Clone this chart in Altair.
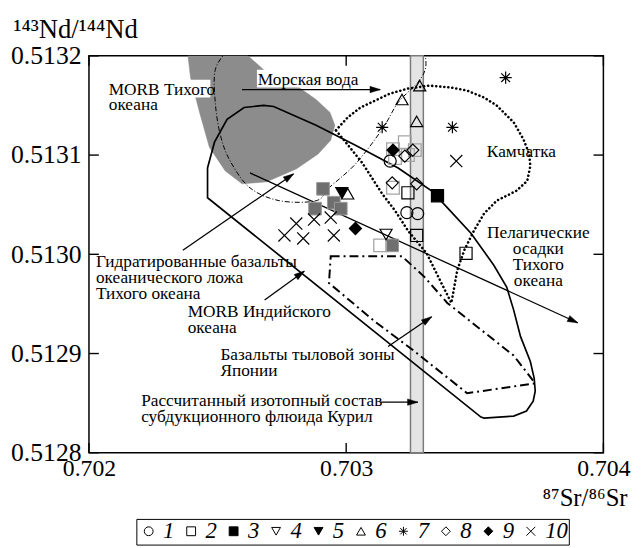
import math
import altair as alt
import pandas as pd

FONT = "Liberation Serif"
W, H = 521, 402

# ---------------- axes ----------------
X_DOMAIN = [0.702, 0.704]
Y_DOMAIN = [0.5128, 0.5132]
X_TICKS = [0.702, 0.703, 0.704]
Y_TICKS = [0.5128, 0.5129, 0.5130, 0.5131, 0.5132]

# ---------------- fields / curves ----------------
# calculated Kuril subduction fluid band
BAND_X = [0.70325, 0.70330]

# MORB Pacific (grey field)
pac_x = [0.702380, 0.702576, 0.702679, 0.702806, 0.702883, 0.702937, 0.702956, 0.702940,
         0.702891, 0.702806, 0.702691, 0.702595, 0.702530, 0.702468, 0.702430, 0.702395]
pac_y = [0.513210, 0.513210, 0.513186, 0.513170, 0.513156, 0.513143, 0.513130, 0.513115,
         0.513101, 0.513086, 0.513073, 0.513071, 0.513084, 0.513108, 0.513143, 0.513178]

# thin dash-dot field
sw_x = [0.702537, 0.702491, 0.702491, 0.702511, 0.702549, 0.702626, 0.702741, 0.702883,
        0.702933, 0.703036, 0.703140, 0.703202, 0.703278, 0.703309, 0.703305]
sw_y = [0.513205, 0.513186, 0.513153, 0.513120, 0.513094, 0.513067, 0.513054, 0.513054,
        0.513067, 0.513091, 0.513126, 0.513153, 0.513173, 0.513188, 0.513205]

# MORB Indian ocean (solid field)
sol_x = [0.702461, 0.702461, 0.702488, 0.702537, 0.702603, 0.702679, 0.702718, 0.702883,
         0.703036, 0.703202, 0.703332, 0.703393, 0.703486, 0.703574, 0.703624, 0.703651,
         0.703678, 0.703716, 0.703731, 0.703735, 0.703727, 0.703701, 0.703651, 0.703536,
         0.703524]
sol_y = [0.513057, 0.513087, 0.513113, 0.513136, 0.513148, 0.513150, 0.513149, 0.513130,
         0.513110, 0.513087, 0.513064, 0.513047, 0.513021, 0.512989, 0.512967, 0.512944,
         0.512917, 0.512892, 0.512875, 0.512862, 0.512852, 0.512842, 0.512837, 0.512835,
         0.512836]

# Kamchatka (dotted field)
kam_x = [0.702960, 0.703006, 0.703056, 0.703113, 0.703171, 0.703240, 0.703324, 0.703409,
         0.703470, 0.703536, 0.703585, 0.703651, 0.703689, 0.703712, 0.703716, 0.703704,
         0.703662, 0.703585, 0.703536, 0.703497, 0.703459, 0.703432, 0.703409, 0.703370,
         0.703313, 0.703240, 0.703190, 0.703140, 0.703063, 0.702998]
kam_y = [0.513125, 0.513138, 0.513148, 0.513155, 0.513162, 0.513167, 0.513170, 0.513168,
         0.513165, 0.513158, 0.513150, 0.513133, 0.513116, 0.513101, 0.513089, 0.513074,
         0.513064, 0.513054, 0.513041, 0.513024, 0.513004, 0.512984, 0.512951, 0.512971,
         0.513001, 0.513024, 0.513044, 0.513061, 0.513092, 0.513113]

# Japan back-arc basalts (thick dash-dot field)
jap_x = [0.702940, 0.703217, 0.703305, 0.703393, 0.703524, 0.703651, 0.703735, 0.703470,
         0.703267, 0.703113, 0.702933]
jap_y = [0.512998, 0.512998, 0.512977, 0.512951, 0.512924, 0.512898, 0.512870, 0.512860,
         0.512902, 0.512932, 0.512971]

# arrows (start x, start y, end x, end y)
arr_x1 = [0.702595, 0.702365, 0.702626, 0.702683, 0.703163, 0.703132]
arr_y1 = [0.513166, 0.513004, 0.513082, 0.512954, 0.512907, 0.512851]
arr_x2 = [0.703132, 0.702795, 0.703900, 0.702837, 0.703332, 0.703278]
arr_y2 = [0.513166, 0.513081, 0.512931, 0.512983, 0.512937, 0.512851]

# ---------------- samples ----------------
c1_x = [0.703171, 0.703236, 0.703278]
c1_y = [0.513094, 0.513042, 0.513041]
c2_x = [0.703240, 0.703274, 0.703466]
c2_y = [0.513062, 0.513019, 0.513001]
c3_x = [0.703355]
c3_y = [0.513059]
c4_x = [0.703155]
c4_y = [0.513020]
c5_x = [0.702983]
c5_y = [0.513062]
c6_x = [0.703286, 0.703217, 0.703274, 0.703006]
c6_y = [0.513170, 0.513156, 0.513134, 0.513061]
c7_x = [0.703140, 0.703413, 0.703620]
c7_y = [0.513128, 0.513128, 0.513178]
c8_x = [0.703179, 0.703274, 0.703259, 0.703228]
c8_y = [0.513072, 0.513071, 0.513105, 0.513099]
c9_x = [0.703036, 0.703182]
c9_y = [0.513026, 0.513105]
c10_x = [0.703428, 0.702806, 0.702760, 0.702833, 0.702875, 0.702940, 0.702952]
c10_y = [0.513094, 0.513031, 0.513019, 0.513016, 0.513035, 0.513037, 0.513019]
# grey symbols (unlabelled)
gf_x = [0.702910, 0.702879, 0.702952, 0.702979, 0.703179]
gf_y = [0.513066, 0.513046, 0.513052, 0.513046, 0.513009]
go_x = [0.703132, 0.703182, 0.703228, 0.703267, 0.703240, 0.703190, 0.703182]
go_y = [0.513009, 0.513106, 0.513113, 0.513105, 0.513100, 0.513097, 0.513067]

CATS = ["1", "2", "3", "4", "5", "6", "7", "8", "9", "10"]

# ---------------- labels ----------------
lab_left_text = ["MORB Тихого\nокеана",
                 "Камчатка",
                 "Гидратированные базальты\nокеанического ложа\nТихого океана",
                 "MORB Индийского\nокеана",
                 "Базальты тыловой зоны\nЯпонии",
                 "Рассчитанный изотопный состав\nсубдукционного флюида Курил"]
lab_left_x = [0.702077, 0.703547, 0.702027, 0.702384, 0.702511, 0.702203]
lab_left_y = [0.513161, 0.513098, 0.512987, 0.512937, 0.512893, 0.512847]
lab_center_text = ["Морская вода", "Пелагические\nосадки\nТихого\nокеана"]
lab_center_x = [0.702852, 0.703747]
lab_center_y = [0.513171, 0.513016]
# white boxes behind two labels
box_x1 = [0.702065, 0.702653]
box_x2 = [0.702472, 0.703056]
box_y1 = [0.513176, 0.513186]
box_y2 = [0.513158, 0.513168]

# ---------------- build tables ----------------
def curve(xs, ys):
    return pd.DataFrame({"x": xs, "y": ys, "i": list(range(len(xs)))})

pts = []
for c, xs, ys in zip(CATS, [c1_x, c2_x, c3_x, c4_x, c5_x, c6_x, c7_x, c8_x, c9_x, c10_x],
                     [c1_y, c2_y, c3_y, c4_y, c5_y, c6_y, c7_y, c8_y, c9_y, c10_y]):
    for a, b in zip(xs, ys):
        pts.append({"x": a, "y": b, "cat": c})
pts_df = pd.DataFrame(pts)

PX = W / (X_DOMAIN[1] - X_DOMAIN[0])
PY = H / (Y_DOMAIN[1] - Y_DOMAIN[0])
heads = []
for x1, y1, x2, y2 in zip(arr_x1, arr_y1, arr_x2, arr_y2):
    dxp = (x2 - x1) * PX
    dyp = (y2 - y1) * PY
    L = math.hypot(dxp, dyp)
    ang = math.degrees(math.atan2(dxp, dyp)) % 360
    back = 5.0
    heads.append({"x": x2 - dxp / L * back / PX, "y": y2 - dyp / L * back / PY, "a": ang})
heads_df = pd.DataFrame(heads)
arr_df = pd.DataFrame({"x": arr_x1, "y": arr_y1, "x2": arr_x2, "y2": arr_y2})

XAX = alt.Axis(values=X_TICKS, format=".3f", ticks=False, domain=False, grid=False,
               labelFont=FONT, labelFontSize=24, labelPadding=4, labelFlush=False,
               labelColor="black", title="⁸⁷Sr/⁸⁶Sr", titleX=545, titleY=53,
               titleAlign="right", titleBaseline="alphabetic", titleFont=FONT,
               titleFontSize=25, titleFontWeight="normal", titleColor="black")
YAX = alt.Axis(values=Y_TICKS, format=".4f", ticks=False, domain=False, grid=False,
               labelFont=FONT, labelFontSize=26, labelPadding=8, labelFlush=False,
               labelColor="black", title="¹⁴³Nd/¹⁴⁴Nd", titleAngle=0, titleX=-77,
               titleY=-19, titleAlign="left", titleBaseline="alphabetic", titleFont=FONT,
               titleFontSize=27, titleFontWeight="normal", titleColor="black")
XS = alt.Scale(domain=X_DOMAIN, nice=False, zero=False)
YS = alt.Scale(domain=Y_DOMAIN, nice=False, zero=False)


def X(f):
    return alt.X(f, type="quantitative", scale=XS, axis=XAX)


def Y(f):
    return alt.Y(f, type="quantitative", scale=YS, axis=YAX)


layers = []

# grey Pacific MORB field
layers.append(alt.Chart(curve(pac_x, pac_y)).mark_line(
    fill="#8c8c8c", stroke="#8c8c8c", strokeWidth=0.5, interpolate="linear-closed",
    clip=True).encode(x=X("x"), y=Y("y"), order="i:Q"))

# white label boxes
layers.append(alt.Chart(pd.DataFrame({"x": box_x1, "x2": box_x2, "y": box_y1, "y2": box_y2}))
              .mark_rect(fill="white").encode(x=X("x"), x2="x2", y=Y("y"), y2="y2"))

# band
layers.append(alt.Chart(pd.DataFrame({"x": [BAND_X[0]], "x2": [BAND_X[1]],
                                      "y": [Y_DOMAIN[0]], "y2": [Y_DOMAIN[1]]}))
              .mark_rect(fill="#e4e4e4", stroke="#7a7a7a", strokeWidth=1.5)
              .encode(x=X("x"), x2="x2", y=Y("y"), y2="y2"))

# solid field
layers.append(alt.Chart(curve(sol_x, sol_y)).mark_line(
    stroke="black", strokeWidth=1.7, interpolate="linear-closed")
    .encode(x=X("x"), y=Y("y"), order="i:Q"))

# thin dash-dot field
layers.append(alt.Chart(curve(sw_x, sw_y)).mark_line(
    stroke="black", strokeWidth=1, strokeDash=[5, 2, 1, 2], interpolate="cardinal", clip=True)
    .encode(x=X("x"), y=Y("y"), order="i:Q"))

# Kamchatka dotted
layers.append(alt.Chart(curve(kam_x, kam_y)).mark_line(
    stroke="black", strokeWidth=2.6, strokeDash=[0.1, 4], strokeCap="round",
    interpolate="linear-closed").encode(x=X("x"), y=Y("y"), order="i:Q"))

# Japan thick dash-dot
layers.append(alt.Chart(curve(jap_x, jap_y)).mark_line(
    stroke="black", strokeWidth=2, strokeDash=[9, 4, 2, 4], interpolate="linear-closed")
    .encode(x=X("x"), y=Y("y"), order="i:Q"))

# arrows
layers.append(alt.Chart(arr_df).mark_rule(color="black", strokeWidth=1.3)
              .encode(x=X("x"), y=Y("y"), x2="x2", y2="y2"))
layers.append(alt.Chart(heads_df).mark_point(
    shape="M0,-1L0.62,1L-0.62,1Z", filled=True, fill="black", stroke="black",
    strokeWidth=0.5, size=110, opacity=1)
    .encode(x=X("x"), y=Y("y"), angle=alt.Angle("a:Q", scale=None)))

# grey symbols
layers.append(alt.Chart(pd.DataFrame({"x": gf_x, "y": gf_y})).mark_point(
    shape="square", filled=True, fill="#6f6f6f", stroke="#9a9a9a", strokeWidth=1,
    size=165, opacity=1).encode(x=X("x"), y=Y("y")))
layers.append(alt.Chart(pd.DataFrame({"x": go_x, "y": go_y})).mark_point(
    shape="square", stroke="#a5a5a5", strokeWidth=1.3, size=165, opacity=1)
    .encode(x=X("x"), y=Y("y")))

# labelled samples
XPATH = "M-1,-1L1,1M-1,1L1,-1"
APATH = "M-1,0L1,0M0,-1L0,1M-0.72,-0.72L0.72,0.72M-0.72,0.72L0.72,-0.72"
SHAPES = ["circle", "square", "square", "triangle-down", "triangle-down", "triangle-up",
          APATH, "diamond", "diamond", XPATH]
FILLS = ["transparent", "transparent", "black", "transparent", "black", "transparent",
         "transparent", "transparent", "black", "transparent"]
STROKES = ["black"] * 10
LEG = alt.Legend(orient="none", legendX=48, legendY=469, direction="horizontal", columns=10,
                 gridAlign="none", title=None, labelFont=FONT, labelFontStyle="italic",
                 labelFontSize=23, labelColor="black", symbolSize=80, symbolStrokeWidth=1,
                 labelOffset=3, columnPadding=5, strokeColor="black", padding=1)
layers.append(alt.Chart(pts_df).mark_point(strokeWidth=1.2, size=150, opacity=1)
              .encode(x=X("x"), y=Y("y"),
                      fill=alt.Fill("cat:N", scale=alt.Scale(domain=CATS, range=FILLS), legend=LEG),
                      stroke=alt.Stroke("cat:N", scale=alt.Scale(domain=CATS, range=STROKES), legend=LEG),
                      shape=alt.Shape("cat:N", scale=alt.Scale(domain=CATS, range=SHAPES), legend=LEG)))

# labels
layers.append(alt.Chart(pd.DataFrame({"x": lab_left_x, "y": lab_left_y, "t": lab_left_text}))
              .mark_text(align="left", baseline="alphabetic", font=FONT, fontSize=17.5,
                         lineBreak="\n", lineHeight=16, color="black")
              .encode(x=X("x"), y=Y("y"), text="t:N"))
layers.append(alt.Chart(pd.DataFrame({"x": lab_center_x, "y": lab_center_y, "t": lab_center_text}))
              .mark_text(align="center", baseline="alphabetic", font=FONT, fontSize=17.5,
                         lineBreak="\n", lineHeight=16, color="black")
              .encode(x=X("x"), y=Y("y"), text="t:N"))

# inward ticks
yt = pd.DataFrame({"v": Y_TICKS})
xt = pd.DataFrame({"v": X_TICKS})
layers.append(alt.Chart(yt).mark_tick(orient="horizontal", size=10, thickness=1.4,
                                      color="black", opacity=1)
              .encode(y=Y("v"), x=alt.value(5)))
layers.append(alt.Chart(yt).mark_tick(orient="horizontal", size=10, thickness=1.4,
                                      color="black", opacity=1)
              .encode(y=Y("v"), x=alt.value(W - 5)))
layers.append(alt.Chart(xt).mark_tick(orient="vertical", size=10, thickness=1.4,
                                      color="black", opacity=1)
              .encode(x=X("v"), y=alt.value(H - 5)))
layers.append(alt.Chart(xt).mark_tick(orient="vertical", size=10, thickness=1.4,
                                      color="black", opacity=1)
              .encode(x=X("v"), y=alt.value(5)))

chart = alt.layer(*layers).properties(
    width=W, height=H,
    padding={"left": 82, "top": 45, "right": 31, "bottom": 93},
    autosize=alt.AutoSizeParams(type="none"),
).configure_view(stroke="black", strokeWidth=1.5)

chart.save("out.html", embed_options={"renderer": "svg", "actions": False})
